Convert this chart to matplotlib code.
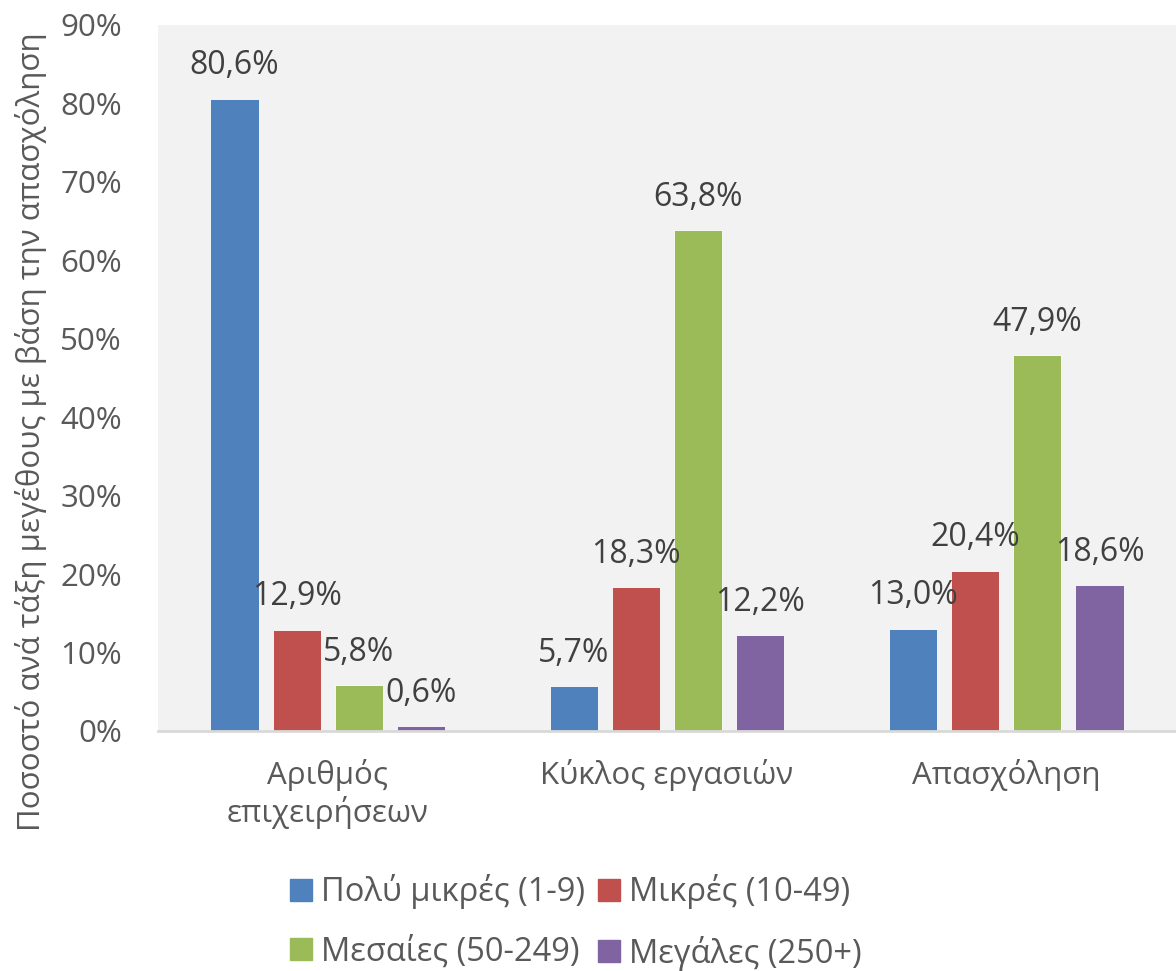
import matplotlib
matplotlib.use('Agg')
import matplotlib.pyplot as plt
import matplotlib.patches as mpatches
import numpy as np

# ── data ─────────────────────────────────────────────────────────────────────
categories = ["Αριθμός\nεπιχειρήσεων", "Κύκλος εργασιών", "Απασχόληση"]
series_names = ["Πολύ μικρές (1-9)", "Μικρές (10-49)",
                "Μεσαίες (50-249)", "Μεγάλες (250+)"]
very_small = [80.6, 5.7, 13.0]
small = [12.9, 18.3, 20.4]
medium = [5.8, 63.8, 47.9]
large = [0.6, 12.2, 18.6]
yticks = [0, 10, 20, 30, 40, 50, 60, 70, 80, 90]

series = [very_small, small, medium, large]
colors = ["#4F81BD", "#C0504D", "#9BBB59", "#8064A2"]

plt.rcParams['font.family'] = ['Open Sans', 'DejaVu Sans']
FS = 22.5

fig = plt.figure(figsize=(11.76, 9.71), dpi=100)
ax = fig.add_axes([0.1344, 0.2472, 0.8656, 0.7271])
ax.set_facecolor("#F2F2F2")

x = np.arange(len(categories))
bar_w = 0.142
step = 0.183
for i, (vals, col) in enumerate(zip(series, colors)):
    xs = x + (i - 1.5) * step
    ax.bar(xs, vals, width=bar_w, color=col, edgecolor="white",
           linewidth=0.6, zorder=2)
    for xv, v in zip(xs, vals):
        ax.annotate(f"{v:.1f}%".replace(".", ","), (xv, v),
                    xytext=(0, 33), textcoords="offset pixels",
                    ha="center", va="center", fontsize=23,
                    color="#404040", zorder=3)

ax.set_xlim(-0.5, 2.5)
ax.set_ylim(0, 90)
ax.set_yticks(yticks)
ax.set_yticklabels([f"{t}%" for t in yticks], fontsize=FS, color="#595959")
ax.set_xticks(x)
ax.set_xticklabels(categories, fontsize=FS, color="#595959", linespacing=1.2)
ax.tick_params(axis="x", length=0, pad=20)
ax.tick_params(axis="y", length=0, pad=26)
for s in ["top", "right", "left"]:
    ax.spines[s].set_visible(False)
ax.spines["bottom"].set_color("#D9D9D9")
ax.spines["bottom"].set_linewidth(2)

fig.text(0.026, 0.555, "Ποσοστό ανά τάξη μεγέθους με βάση την απασχόληση",
         rotation=90, ha="center", va="center", fontsize=FS, color="#595959")

# legend filled row by row
order = [0, 2, 1, 3]
handles = [mpatches.Patch(color=colors[k]) for k in order]
labels = [series_names[k] for k in order]
fig.legend(handles, labels, ncol=2, loc="center",
           bbox_to_anchor=(0.49, 0.050), frameon=False, fontsize=23.5,
           handlelength=0.65, handleheight=0.65, handletextpad=0.3,
           columnspacing=0.4, labelspacing=0.8,
           labelcolor="#595959")

fig.savefig("out.png", dpi=100, facecolor="white")
